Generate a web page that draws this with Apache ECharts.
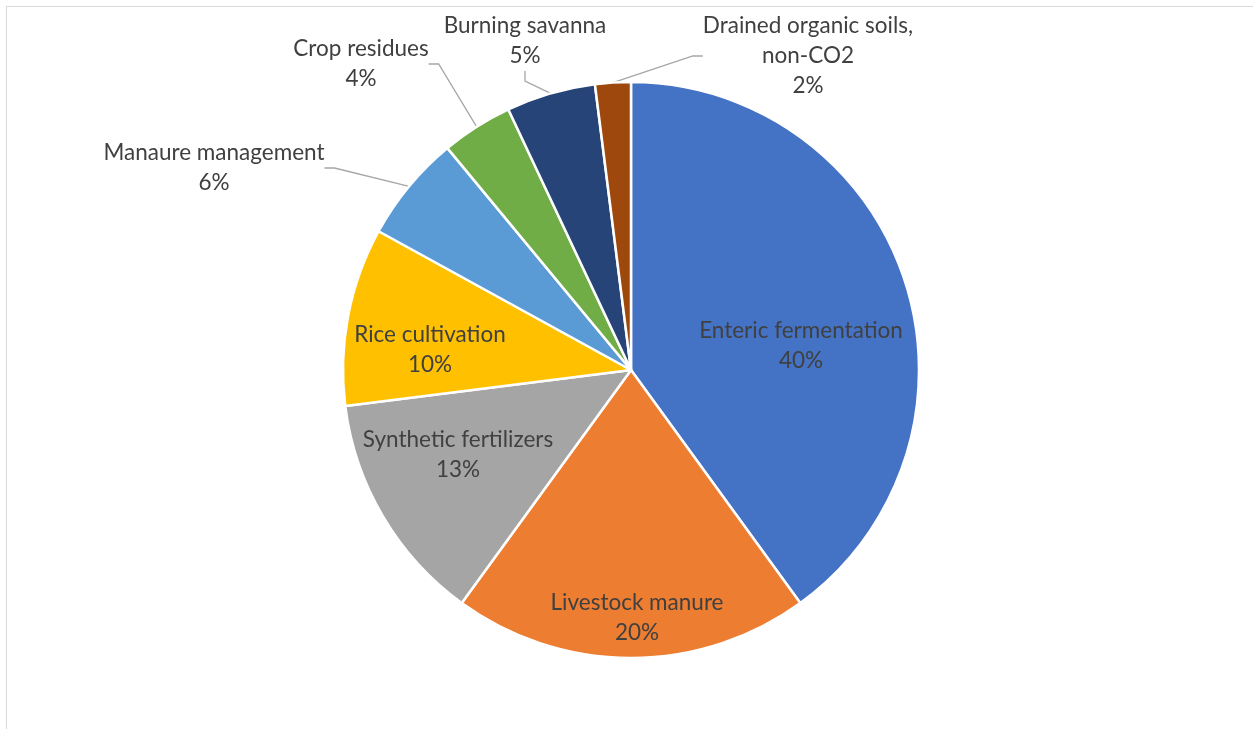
<!DOCTYPE html>
<html>
<head>
<meta charset="utf-8">
<script src="https://cdn.jsdelivr.net/npm/echarts@6/dist/echarts.min.js"></script>
<style>
  html, body { margin: 0; padding: 0; background: #ffffff; }
  #frame { position: absolute; left: 6px; top: 6px; width: 1400px; height: 900px;
           border-top: 1.5px solid #d9d9d9; border-left: 1.5px solid #d9d9d9; }
  #chart { position: absolute; left: 0; top: 0; width: 1253px; height: 729px; }
</style>
</head>
<body>
<div id="frame"></div>
<div id="chart"></div>
<script>
// Agricultural emission sources, share of total (%)
const categories = [
  'Enteric fermentation',
  'Livestock manure',
  'Synthetic fertilizers',
  'Rice cultivation',
  'Manaure management',
  'Crop residues',
  'Burning savanna',
  'Drained organic soils, non-CO2'
];
const shares = [40, 20, 13, 10, 6, 4, 5, 2];
const colors = ['#4472C4', '#ED7D31', '#A5A5A5', '#FFC000', '#5B9BD5', '#70AD47', '#264478', '#9E480E'];

// Label placement: whether the label sits on the slice, and where its text block is centred
const outsideLabel = [false, false, false, false, true, true, true, true];
const labelCentre = [
  [801, 346], [637, 618], [458, 455], [430, 350],
  [214, 168], [361, 64], [525, 41], [808, 56]
];

const chart = echarts.init(document.getElementById('chart'), null, { renderer: 'canvas' });

const data = categories.map((name, i) => ({
  name: name,
  value: shares[i],
  itemStyle: { color: colors[i] },
  label: { position: outsideLabel[i] ? 'outside' : 'inside' },
  labelLine: { show: outsideLabel[i] }
}));

chart.setOption({
  animation: false,
  series: [{
    type: 'pie',
    center: [631, 370],
    radius: 288,
    startAngle: 90,
    clockwise: true,
    avoidLabelOverlap: false,
    itemStyle: { borderColor: '#ffffff', borderWidth: 2.5 },
    label: {
      formatter: p => p.name.replace(', ', ',\n') + '\n' + p.value + '%',
      fontFamily: 'Lato',
      fontSize: 22.5,
      lineHeight: 30,
      color: '#404040',
      align: 'center'
    },
    labelLine: {
      length: 12,
      length2: 10,
      lineStyle: { color: '#a6a6a6', width: 1.3 }
    },
    labelLayout: params => {
      const c = labelCentre[params.dataIndex];
      return { x: c[0], y: c[1], align: 'center', verticalAlign: 'middle' };
    },
    data: data
  }]
});
</script>
</body>
</html>
